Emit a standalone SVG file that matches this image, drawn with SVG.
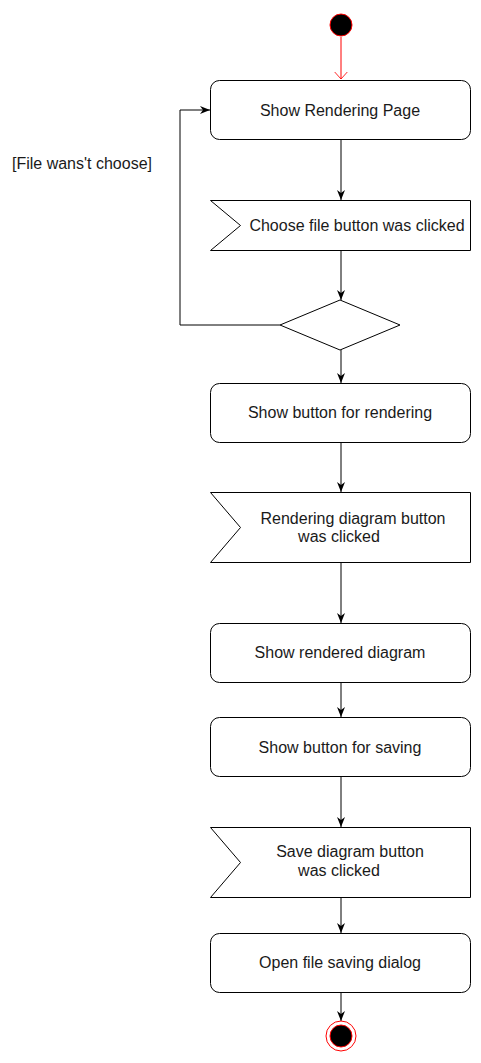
<svg xmlns="http://www.w3.org/2000/svg" width="481" height="1063" viewBox="0 0 481 1063">
<style>
.box{fill:#fff;stroke:#000;stroke-width:1}
.t{font-family:"Liberation Sans",Arial,sans-serif;font-size:16px;fill:#1a1a1a;text-anchor:middle;dominant-baseline:central}
.c{fill:none;stroke:#000;stroke-width:1}
</style>
<defs>
<marker id="ah" viewBox="0 0 10 10" refX="10" refY="5" markerWidth="10" markerHeight="10" markerUnits="userSpaceOnUse" orient="auto">
<path d="M0,1 L10,5 L0,9 L3,5 Z" fill="#000"/>
</marker>
<marker id="ro" viewBox="0 0 10 20" refX="10" refY="10" markerWidth="8" markerHeight="14" markerUnits="userSpaceOnUse" orient="auto">
<path d="M0,1 L10,10 L0,19" fill="none" stroke="#ff0000" stroke-width="1.2"/>
</marker>
</defs>
<g id="connectors">
<line x1="341" y1="37" x2="341" y2="79" stroke="#ff0000" stroke-width="1" marker-end="url(#ro)"/>
<line class="c" x1="341" y1="140" x2="341" y2="200" marker-end="url(#ah)"/>
<line class="c" x1="341" y1="250" x2="341" y2="300" marker-end="url(#ah)"/>
<polyline class="c" points="280,325 180,325 180,110 210,110" marker-end="url(#ah)"/>
<line class="c" x1="341" y1="350" x2="341" y2="383" marker-end="url(#ah)"/>
<line class="c" x1="341" y1="442" x2="341" y2="492" marker-end="url(#ah)"/>
<line class="c" x1="341" y1="562" x2="341" y2="623" marker-end="url(#ah)"/>
<line class="c" x1="341" y1="682" x2="341" y2="717" marker-end="url(#ah)"/>
<line class="c" x1="341" y1="777" x2="341" y2="827" marker-end="url(#ah)"/>
<line class="c" x1="341" y1="897" x2="341" y2="933" marker-end="url(#ah)"/>
<line class="c" x1="341" y1="992" x2="341" y2="1021" marker-end="url(#ah)"/>
<text class="t" x="82" y="163">[File wans't choose]</text>
</g>
<g id="start">
<circle cx="341" cy="25" r="11" fill="#000" stroke="#ff0000" stroke-width="1"/>
</g>
<g id="n1">
<rect class="box" x="210.5" y="80.5" width="260" height="59" rx="9"/>
<text class="t" x="340" y="110">Show Rendering Page</text>
</g>
<g id="n2">
<path class="box" d="M210.5,200.5 H470.5 V250.5 H210.5 L240.5,225.5 Z"/>
<text class="t" x="357" y="225">Choose file button was clicked</text>
</g>
<g id="decision">
<path class="box" d="M280,325 L340,300 L400,325 L340,350 Z" stroke-width="2"/>
</g>
<g id="n3">
<rect class="box" x="210.5" y="383.5" width="260" height="59" rx="9"/>
<text class="t" x="340" y="412">Show button for rendering</text>
</g>
<g id="n4">
<path class="box" d="M210.5,492.5 H470.5 V562.5 H210.5 L240.5,527.5 Z"/>
<text class="t" x="353" y="518">Rendering diagram button</text>
<text class="t" x="339" y="536">was clicked</text>
</g>
<g id="n5">
<rect class="box" x="210.5" y="623.5" width="260" height="59" rx="9"/>
<text class="t" x="340" y="652">Show rendered diagram</text>
</g>
<g id="n6">
<rect class="box" x="210.5" y="717.5" width="260" height="59" rx="9"/>
<text class="t" x="340" y="747">Show button for saving</text>
</g>
<g id="n7">
<path class="box" d="M210.5,827.5 H470.5 V897.5 H210.5 L240.5,862.5 Z"/>
<text class="t" x="350" y="851">Save diagram button</text>
<text class="t" x="339" y="870">was clicked</text>
</g>
<g id="n8">
<rect class="box" x="210.5" y="933.5" width="260" height="59" rx="9"/>
<text class="t" x="340" y="962">Open file saving dialog</text>
</g>
<g id="end">
<circle cx="341" cy="1036" r="15" fill="#fff" stroke="#ff0000" stroke-width="1"/>
<circle cx="341" cy="1036" r="11" fill="#000" stroke="#ff0000" stroke-width="1"/>
</g>
</svg>
